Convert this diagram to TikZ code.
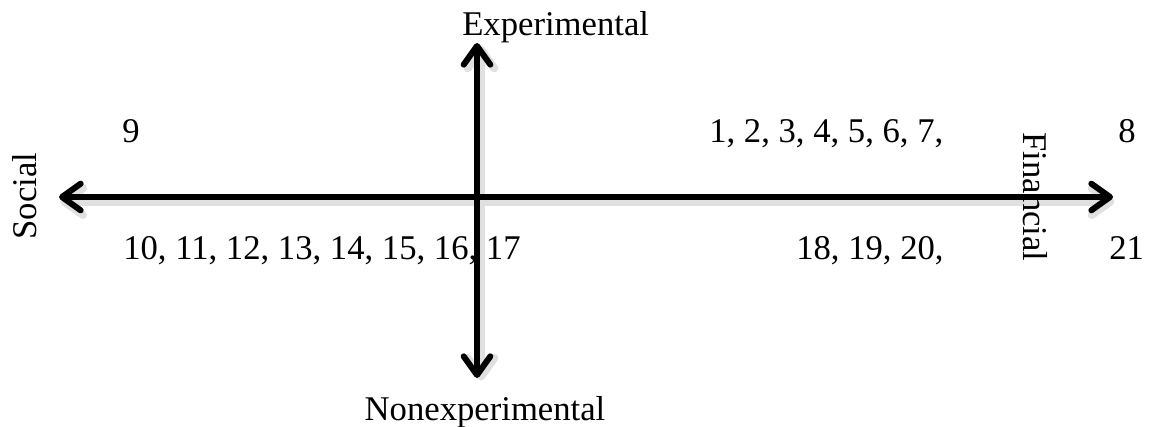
\documentclass[tikz,border=0pt]{standalone}
\usepackage{fontspec}
\setmainfont{Liberation Serif}
\usetikzlibrary{positioning, arrows.meta}

\begin{document}
\begin{tikzpicture}[
  x=0.75pt, y=0.75pt,
  axis/.style   = {line width=4.5pt, {Straight Barb[length=14pt, width=20pt, round]}-{Straight Barb[length=14pt, width=20pt, round]}},
  shade/.style  = {line width=6pt, draw=black!12, {Straight Barb[length=14pt, width=20pt, round]}-{Straight Barb[length=14pt, width=20pt, round]}},
  label/.style  = {inner sep=0pt, anchor=base west, font=\fontsize{26}{30}\selectfont},
  title/.style  = {inner sep=0pt, font=\fontsize{26}{30}\selectfont}
]
\useasboundingbox (0,0) rectangle (1151,427);
% Axis ends
\coordinate (west)  at (59,230);
\coordinate (east)  at (1113,230);
\coordinate (north) at (477,384);
\coordinate (south) at (477,49);
% Shadows
\draw[shade, transform canvas={xshift=1pt, yshift=-3.5pt}] (west) -- (east);
\draw[shade, transform canvas={xshift=3pt, yshift=-2pt}] (north) -- (south);
% Axes
\draw[axis] (west) -- (east);
\draw[axis] (north) -- (south);
% Axis titles
\node[title, anchor=base west] (exp)    at (462,391) {Experimental};
\node[title, anchor=base]      (nonexp) at (485,6)   {Nonexperimental};
\node[title, rotate=90]        (soc)    at (25,231)  {Social};
\node[title, rotate=-90]       (fin)    at (1035,230) {Financial};
% Items above
\node[label] (i9)  at (122,284)  {9};
\node[label] (i1)  at (709,284)  {1, 2, 3, 4, 5, 6, 7,};
\node[label] (i8)  at (1118,284) {8};
% Items below
\node[label] (i10) at (123,167)  {10, 11, 12, 13, 14, 15, 16, 17};
\node[label] (i18) at (796,167)  {18, 19, 20,};
\node[label] (i21) at (1109,167) {21};
\end{tikzpicture}
\end{document}
